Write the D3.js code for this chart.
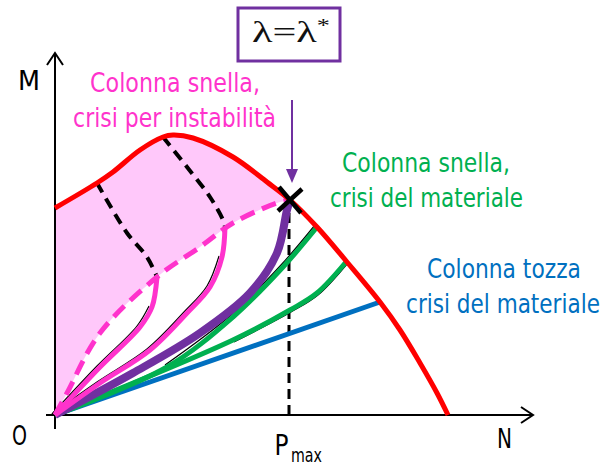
<!DOCTYPE html>
<html>
<head>
<meta charset="utf-8">
<script src="https://cdn.jsdelivr.net/npm/d3@7"></script>
<style>
  body { margin: 0; background: #fff; }
  svg { display: block; }
</style>
</head>
<body>
<div id="chart"></div>
<script>
// Curves in (N, M) units
const pMax = 58.5;
const critPoint = [58.75, 53.75];

const materialLimit = [[0, 51.75], [10.5, 58], [14.5, 60.75], [21.25, 66.25], [27, 69.5], [29.5, 70],
  [34.5, 69.25], [44.5, 64.5], [53, 58.25], [58.75, 53.75], [65.5, 47], [73, 38.25], [81.25, 28.25],
  [86.25, 21.25], [91.25, 13], [95.5, 5.5], [98.25, 0]];
const instabilityLimit = [[0, 0], [3, 5.5], [11.25, 20.5], [25.5, 34.5], [36.25, 42], [44.5, 48], [55.5, 53], [58.75, 53.75]];
const postBuckling1 = [[10.5, 58], [18, 45.5], [23, 39.5], [25.5, 34.5]];
const postBuckling2 = [[27, 69.5], [33, 62], [38.75, 54.5], [42, 48.75], [42.5, 47]];
const slenderPath1 = [[0, 0], [11.25, 12], [21.25, 22], [24.25, 27], [25.5, 34.5]];
const slenderPath2 = [[0, 0], [11.25, 8], [23.75, 16.25], [33, 25.5], [38.75, 32], [41.75, 39.5], [42.5, 47]];
const limitPath = [[0, 0], [19.5, 10.5], [36.25, 20.5], [48.75, 30.5], [55.5, 40.5], [58, 51.25], [58.75, 53.75]];
const materialPath1 = [[0, 0], [28, 12], [44.5, 24.5], [57, 37], [65.5, 47]];
const materialPath2 = [[0, 0], [44.5, 18.75], [58.75, 26.25], [65.5, 30.5], [72.75, 38.25]];
const stockyPath = [[0, 0], [81.25, 28.25]];

const width = 613, height = 465;
const x = d3.scaleLinear().domain([0, 120]).range([55, 535]);
const y = d3.scaleLinear().domain([0, 91]).range([415, 51]);

const svg = d3.select("#chart").append("svg")
  .attr("width", width).attr("height", height);

const curve = d3.line().x(d => x(d[0])).y(d => y(d[1])).curve(d3.curveCatmullRom.alpha(0.5));

const PINK = "#FF33CC", RED = "#FF0000", GREEN = "#00B050", BLUE = "#0070C0", PURPLE = "#7030A0";
const FONT = "'Liberation Sans Narrow', 'Arial Narrow', 'DejaVu Sans Condensed', sans-serif";

// shaded instability zone: under the material limit, above the dashed instability curve
const upper = materialLimit.filter(d => d[0] <= critPoint[0]);
svg.append("path")
  .attr("d", curve(upper) + "L" + curve(instabilityLimit.slice().reverse()).slice(1) + "Z")
  .attr("fill", "#FFC8FA");

// axes
svg.append("line").attr("x1", 46).attr("x2", x(119.5)).attr("y1", y(0)).attr("y2", y(0))
  .attr("stroke", "#000").attr("stroke-width", 2);
svg.append("line").attr("x1", x(0)).attr("x2", x(0)).attr("y1", y(-3.5)).attr("y2", y(90.5))
  .attr("stroke", "#000").attr("stroke-width", 2);
svg.append("path").attr("d", `M${x(119.5) - 12},${y(0) - 8}L${x(119.5)},${y(0)}L${x(119.5) - 12},${y(0) + 8}`)
  .attr("fill", "none").attr("stroke", "#000").attr("stroke-width", 2);
svg.append("path").attr("d", `M${x(0) - 8},${y(90.5) + 12}L${x(0)},${y(90.5)}L${x(0) + 8},${y(90.5) + 12}`)
  .attr("fill", "none").attr("stroke", "#000").attr("stroke-width", 2);

// P max dashed guide
svg.append("line").attr("x1", x(pMax)).attr("x2", x(pMax)).attr("y1", y(0)).attr("y2", y(critPoint[1]))
  .attr("stroke", "#000").attr("stroke-width", 3).attr("stroke-dasharray", "10,6");

// black dashed post-critical branches
[postBuckling1, postBuckling2].forEach(p => {
  svg.append("path").attr("d", curve(p)).attr("fill", "none")
    .attr("stroke", "#000").attr("stroke-width", 4).attr("stroke-dasharray", "11,7");
});

// equilibrium paths
svg.append("path").attr("d", curve(stockyPath)).attr("fill", "none").attr("stroke", BLUE).attr("stroke-width", 5);
[materialPath2, materialPath1].forEach((p, i) => {
  svg.append("path").attr("d", curve(p.slice(1))).attr("fill", "none").attr("stroke", "#000")
    .attr("stroke-width", 1.2).attr("transform", i ? "translate(-2,-2)" : "translate(1,2)");
  svg.append("path").attr("d", curve(p)).attr("fill", "none").attr("stroke", GREEN).attr("stroke-width", 5);
});
svg.append("path").attr("d", curve(limitPath)).attr("fill", "none").attr("stroke", PURPLE).attr("stroke-width", 8);
[slenderPath2, slenderPath1].forEach(p => {
  svg.append("path").attr("d", curve(p.slice(0, -1))).attr("fill", "none").attr("stroke", "#000")
    .attr("stroke-width", 1.2).attr("transform", "translate(-3,-1)");
  svg.append("path").attr("d", curve(p)).attr("fill", "none").attr("stroke", PINK).attr("stroke-width", 5);
});

// instability limit (dashed pink) and material limit (red)
svg.append("path").attr("d", curve(instabilityLimit)).attr("fill", "none")
  .attr("stroke", PINK).attr("stroke-width", 5).attr("stroke-dasharray", "15,8");
svg.append("path").attr("d", curve(materialLimit)).attr("fill", "none")
  .attr("stroke", RED).attr("stroke-width", 5);

// critical point cross
const cx = x(critPoint[0]), cy = y(critPoint[1]);
svg.append("path").attr("d", `M${cx - 11},${cy - 13}L${cx + 11},${cy + 13}M${cx - 12},${cy + 11}L${cx + 12},${cy - 11}`)
  .attr("stroke", "#000").attr("stroke-width", 4.5);

// purple arrow and lambda box
svg.append("line").attr("x1", cx + 2).attr("x2", cx + 2).attr("y1", 100).attr("y2", 172)
  .attr("stroke", PURPLE).attr("stroke-width", 2);
svg.append("path").attr("d", `M${cx - 4},169L${cx + 8},169L${cx + 2},183Z`).attr("fill", PURPLE);
svg.append("rect").attr("x", 238).attr("y", 8).attr("width", 102).attr("height", 53)
  .attr("fill", "#fff").attr("stroke", PURPLE).attr("stroke-width", 3);

// text squeezed horizontally to the width it has in the picture
function fit(sel, cxPos, base, len) {
  const w = sel.node().getBBox().width;
  sel.attr("text-anchor", "middle")
    .attr("transform", `translate(${cxPos},${base}) scale(${len / w},1)`);
  return sel;
}
const lam = svg.append("text").attr("font-family", "'Liberation Serif', 'DejaVu Serif', serif")
  .attr("font-size", 29).attr("fill", "#111");
lam.append("tspan").text("λ=λ");
lam.append("tspan").attr("dy", -10).attr("font-size", 18).text("*");
fit(lam, 291, 42, 78);

function label(txt, cxPos, base, len, color, size) {
  const t = svg.append("text").attr("font-family", FONT).attr("font-size", size || 27)
    .attr("fill", color).text(txt);
  fit(t, cxPos, base, len);
}
label("Colonna snella,", 175, 92, 170, PINK);
label("crisi per instabilità", 174.5, 127, 203, PINK);
label("Colonna snella,", 426, 172, 168, GREEN);
label("crisi del materiale", 426.5, 207, 193, GREEN);
label("Colonna tozza", 504, 278, 154, BLUE);
label("crisi del materiale", 503, 313, 194, BLUE);
label("M", 29, 90, 22, "#000");
label("O", 19.5, 445, 15, "#000");
label("N", 504.5, 448, 15, "#000");
label("P", x(pMax) - 7.5, 455, 14, "#000", 29);
label("max", x(pMax) + 17.5, 462, 31, "#000", 19);
</script>
</body>
</html>
